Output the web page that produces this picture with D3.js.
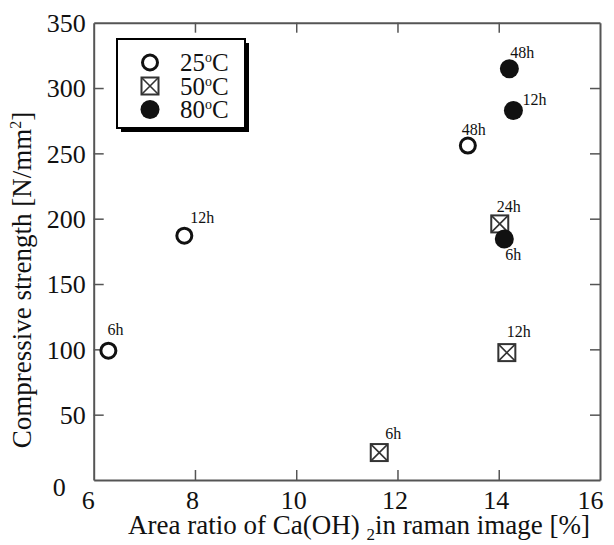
<!DOCTYPE html>
<html>
<head>
<meta charset="utf-8">
<script src="https://cdn.jsdelivr.net/npm/d3@7"></script>
<style>
  html, body { margin: 0; padding: 0; background: #fff; }
  svg, svg text { font-family: "Liberation Serif", "Times New Roman", serif; }
  svg { display: block; }
</style>
</head>
<body>
<svg id="chart" width="614" height="545"></svg>
<script>
// ---- data ----
const seriesNames = ["25", "50", "80"];           // temperature (°C)
const x25 = [6.29, 7.79, 13.39];
const y25 = [99, 187, 256];
const lab25 = ["6h", "12h", "48h"];
const x50 = [11.64, 14.16, 14.02];
const y50 = [21, 97.5, 196];
const lab50 = ["6h", "12h", "24h"];
const x80 = [14.11, 14.29, 14.21];
const y80 = [184.5, 282.8, 314.7];
const lab80 = ["6h", "12h", "48h"];
const xTicks = [6, 8, 10, 12, 14, 16];
const yTicks = [0, 50, 100, 150, 200, 250, 300, 350];

// ---- layout (label offsets relative to the marker) ----
const off25 = [[-1, -16], [6, -13], [-6, -11]];
const off50 = [[6, -14], [0, -16], [-3, -12]];
const off80 = [[1, 21], [9, -6], [1, -11]];

const FONT = "'Liberation Serif', 'Times New Roman', serif";
const svg = d3.select("#chart");
const L = 93.7, R = 600, T = 22.7, B = 480;
const x = d3.scaleLinear().domain([6, 16]).range([L, R]);
const y = d3.scaleLinear().domain([0, 350]).range([B, T]);
const axisColor = "#555";

// frame axes with inward ticks on all sides
const gB = svg.append("g").attr("transform", `translate(0,${B})`)
  .call(d3.axisBottom(x).tickValues(xTicks).tickSizeInner(-10).tickSizeOuter(0).tickPadding(20));
const gT = svg.append("g").attr("transform", `translate(0,${T})`)
  .call(d3.axisTop(x).tickValues(xTicks).tickSizeInner(-10).tickSizeOuter(0).tickFormat(""));
const gL = svg.append("g").attr("transform", `translate(${L},0)`)
  .call(d3.axisLeft(y).tickValues(yTicks).tickSizeInner(-10).tickSizeOuter(0).tickPadding(18));
const gR = svg.append("g").attr("transform", `translate(${R},0)`)
  .call(d3.axisRight(y).tickValues(yTicks).tickSizeInner(-10).tickSizeOuter(0).tickFormat(""));

[gB, gT, gL, gR].forEach(g => {
  g.attr("font-family", FONT).attr("font-size", 26);
  g.select(".domain").attr("stroke", axisColor).attr("stroke-width", 2);
  g.selectAll(".tick line").attr("stroke", axisColor).attr("stroke-width", 1.5);
  g.selectAll("text").attr("fill", "#111").attr("font-family", FONT).attr("font-size", 26);
});
// hide ticks at the corners
gB.selectAll(".tick line").filter(d => d === 6 || d === 16).remove();
gT.selectAll(".tick line").filter(d => d === 6 || d === 16).remove();
gL.selectAll(".tick line").filter(d => d === 0 || d === 350).remove();
gR.selectAll(".tick line").filter(d => d === 0 || d === 350).remove();
// x tick labels
gB.selectAll(".tick text").attr("dy", null).attr("y", 29).attr("dx", d => d === 6 ? -6 : (d === 16 ? -10 : -3));
// y tick labels
gL.selectAll(".tick text").attr("x", -8).attr("dy", "0.34em");
gL.selectAll(".tick text").filter(d => d === 0).attr("x", -28).attr("dy", "0.6em");

// axis titles
const xt = svg.append("text").attr("x", 359).attr("y", 534).attr("text-anchor", "middle")
  .attr("font-family", FONT).attr("font-size", 27).attr("fill", "#111");
xt.append("tspan").text("Area ratio of Ca(OH) ");
xt.append("tspan").text("2").attr("font-size", 17).attr("dy", 6);
xt.append("tspan").text("in raman image [%]").attr("dy", -6);

const yt = svg.append("text").attr("transform", `translate(31,${280}) rotate(-90)`)
  .attr("text-anchor", "middle").attr("font-family", FONT).attr("font-size", 27).attr("fill", "#111");
yt.append("tspan").text("Compressive strength [N/mm");
yt.append("tspan").text("2").attr("font-size", 16).attr("dy", -10);
yt.append("tspan").text("]").attr("dy", 10);

// markers
function openCircle(g, cx, cy) {
  g.append("circle").attr("cx", cx).attr("cy", cy).attr("r", 7.5)
    .attr("fill", "#fff").attr("stroke", "#111").attr("stroke-width", 3);
}
function crossSquare(g, cx, cy) {
  const h = 8.5;
  g.append("rect").attr("x", cx - h).attr("y", cy - h).attr("width", 2 * h).attr("height", 2 * h)
    .attr("fill", "#fff").attr("stroke", "#333").attr("stroke-width", 2);
  g.append("path").attr("d", `M${cx - h},${cy - h}L${cx + h},${cy + h}M${cx + h},${cy - h}L${cx - h},${cy + h}`)
    .attr("stroke", "#333").attr("stroke-width", 1.6);
}
function filledCircle(g, cx, cy) {
  g.append("circle").attr("cx", cx).attr("cy", cy).attr("r", 9.5).attr("fill", "#111");
}

const marks = svg.append("g");
const sets = [
  [x25, y25, lab25, off25, openCircle],
  [x50, y50, lab50, off50, crossSquare],
  [x80, y80, lab80, off80, filledCircle]
];
sets.forEach(([xs, ys, labs, offs, draw]) => {
  xs.forEach((xv, i) => {
    const cx = x(xv), cy = y(ys[i]);
    draw(marks, cx, cy);
    marks.append("text").attr("x", cx + offs[i][0]).attr("y", cy + offs[i][1])
      .attr("font-family", FONT).attr("font-size", 16).attr("fill", "#111").text(labs[i]);
  });
});

// legend
const lg = svg.append("g");
const bx = 117, by = 39, bw = 128, bh = 89;
lg.append("rect").attr("x", bx + 4).attr("y", by + 4).attr("width", bw).attr("height", bh).attr("fill", "#000");
lg.append("rect").attr("x", bx).attr("y", by).attr("width", bw).attr("height", bh)
  .attr("fill", "#fff").attr("stroke", "#000").attr("stroke-width", 2);
const rowsY = [62.5, 86, 109.5];
const drawers = [openCircle, crossSquare, filledCircle];
seriesNames.forEach((s, i) => {
  drawers[i](lg, 150, rowsY[i]);
  const t = lg.append("text").attr("x", 180).attr("y", rowsY[i] + 8.5)
    .attr("font-family", FONT).attr("font-size", 25).attr("fill", "#111");
  t.append("tspan").text(s);
  t.append("tspan").text("o").attr("font-size", 14).attr("dy", -9);
  t.append("tspan").text("C").attr("dy", 9);
});
</script>
</body>
</html>
